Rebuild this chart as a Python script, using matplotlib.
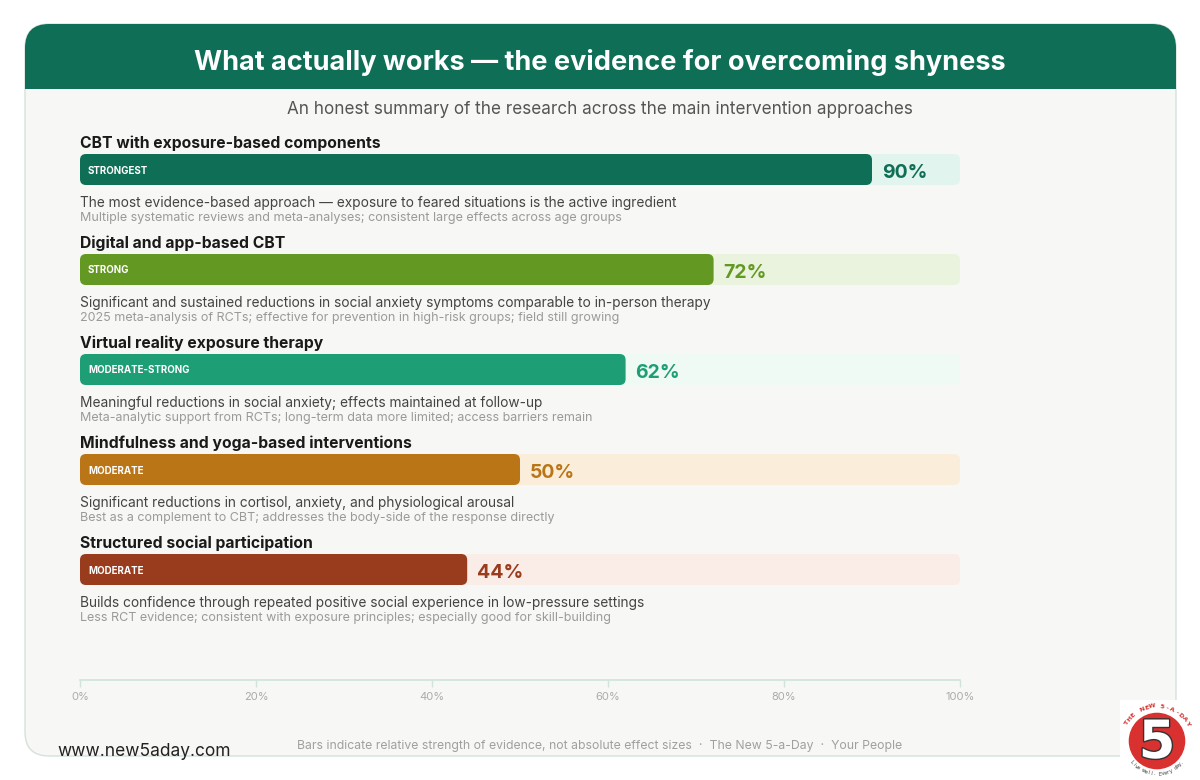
import numpy as np
import matplotlib
matplotlib.use("Agg")
import matplotlib.pyplot as plt
import matplotlib.patheffects as pe
from matplotlib.patches import FancyBboxPatch, Rectangle, Circle

plt.rcParams['font.family'] = ['Inter', 'DejaVu Sans']

# data
names = ["CBT with exposure-based components",
         "Digital and app-based CBT",
         "Virtual reality exposure therapy",
         "Mindfulness and yoga-based interventions",
         "Structured social participation"]
strength = [90, 72, 62, 50, 44]
badges = ["STRONGEST", "STRONG", "MODERATE-STRONG", "MODERATE", "MODERATE"]
desc_main = [
    "The most evidence-based approach \u2014 exposure to feared situations is the active ingredient",
    "Significant and sustained reductions in social anxiety symptoms comparable to in-person therapy",
    "Meaningful reductions in social anxiety; effects maintained at follow-up",
    "Significant reductions in cortisol, anxiety, and physiological arousal",
    "Builds confidence through repeated positive social experience in low-pressure settings",
]
desc_note = [
    "Multiple systematic reviews and meta-analyses; consistent large effects across age groups",
    "2025 meta-analysis of RCTs; effective for prevention in high-risk groups; field still growing",
    "Meta-analytic support from RCTs; long-term data more limited; access barriers remain",
    "Best as a complement to CBT; addresses the body-side of the response directly",
    "Less RCT evidence; consistent with exposure principles; especially good for skill-building",
]
bar_colors = ["#0F6E56", "#639922", "#1D9E75", "#BA7517", "#993C1D"]
track_colors = ["#E1F5EE", "#EAF3DE", "#EFFAF5", "#FAEEDA", "#FAECE7"]
xticks = [0, 20, 40, 60, 80, 100]

title = "What actually works \u2014 the evidence for overcoming shyness"
subtitle = "An honest summary of the research across the main intervention approaches"
footer = "Bars indicate relative strength of evidence, not absolute effect sizes  \u00b7  The New 5-a-Day  \u00b7  Your People"

W, H = 1200, 780
fig = plt.figure(figsize=(W / 100, H / 100), dpi=100)
fig.patch.set_facecolor("white")

# background card in pixel coords
bg = fig.add_axes([0, 0, 1, 1])
bg.set_xlim(0, W)
bg.set_ylim(H, 0)
bg.axis("off")

card = FancyBboxPatch((25, 24), 1151, 732, boxstyle="round,pad=0,rounding_size=24",
                      facecolor="#F7F7F5", edgecolor="#D3E2DC", linewidth=1.0)
bg.add_patch(card)
head = FancyBboxPatch((25, 24), 1151, 65, boxstyle="round,pad=0,rounding_size=24",
                      facecolor="#0F6E56", edgecolor="none")
bg.add_patch(head)
bg.add_patch(Rectangle((25, 55), 1151, 34, facecolor="#0F6E56", edgecolor="none"))

bg.text(600, 63, title, ha="center", va="center", color="white",
        fontsize=19.5, fontweight="bold")
bg.text(600, 109, subtitle, ha="center", va="center", color="#555555", fontsize=12.3)
bg.text(600, 746, footer, ha="center", va="center", color="#A0A0A0", fontsize=8.8)
bg.text(57, 752, "www.new5aday.com", ha="left", va="center", color="#222222", fontsize=12.5)

# logo
bg.add_patch(Rectangle((1120, 700), 72, 78, facecolor="white", edgecolor="none"))
cx, cy, r = 1157, 741, 29
bg.add_patch(Circle((cx, cy), r, facecolor="#D8312F", edgecolor="white", linewidth=1))
bg.text(cx, cy + 2, "5", ha="center", va="center", color="white", fontsize=38,
        fontweight="bold", family="DejaVu Sans",
        path_effects=[pe.withStroke(linewidth=2, foreground="#333333")])
arc_txt = "THE NEW 5-A-DAY"
angs = np.linspace(150, 30, len(arc_txt))
for ch, a in zip(arc_txt, angs):
    ra = np.radians(a)
    bg.text(cx + (r + 6) * np.cos(ra), cy - (r + 6) * np.sin(ra), ch, ha="center", va="center",
            rotation=a - 90, color="#D8312F", fontsize=4.5, fontweight="bold", family="DejaVu Sans")
low_txt = "Live well. Every day."
angs = np.linspace(220, 320, len(low_txt))
for ch, a in zip(low_txt, angs):
    ra = np.radians(a)
    bg.text(cx + (r + 4) * np.cos(ra), cy - (r + 4) * np.sin(ra), ch, ha="center", va="center",
            rotation=a + 90, color="#333333", fontsize=3.5, family="DejaVu Sans")

# bar axes: x 80..960 px, y 130..680 px (1 y unit = 100 px)
ax = fig.add_axes([80 / W, 1 - 680 / H, 880 / W, 550 / H])
ax.set_xlim(0, 100)
ax.set_ylim(6.8, 1.3)
ax.patch.set_alpha(0)
for s in ["top", "left", "right"]:
    ax.spines[s].set_visible(False)
ax.spines["bottom"].set_color("#CFE3DC")
ax.spines["bottom"].set_linewidth(1.2)
ax.set_yticks([])
ax.set_xticks(xticks)
ax.set_xticklabels([f"{t}%" for t in xticks])
ax.tick_params(axis="x", colors="#CFE3DC", labelcolor="#ABABAB", labelsize=8,
               length=5, width=1, pad=4)

bar_h = 0.31
rs = 6 * 100 / 880          # 6 px corner radius in x units
asp = (1 / 100) / (100 / 880)  # y units per px over x units per px
for i in range(len(names)):
    top = 1.54 + i
    ax.add_patch(FancyBboxPatch((0, top), 100, bar_h,
                                boxstyle=f"round,pad=0,rounding_size={rs}",
                                mutation_aspect=asp,
                                facecolor=track_colors[i], edgecolor="none", zorder=1))
    ax.add_patch(FancyBboxPatch((0, top), strength[i], bar_h,
                                boxstyle=f"round,pad=0,rounding_size={rs}",
                                mutation_aspect=asp,
                                facecolor=bar_colors[i], edgecolor="none", zorder=2))
    ax.text(0.9, top + bar_h / 2 + 0.01, badges[i], ha="left", va="center", color="white",
            fontsize=7, fontweight="bold", zorder=3)
    ax.text(strength[i] + 1.1, top + bar_h / 2 + 0.035, f"{strength[i]}%", ha="left", va="center",
            color=bar_colors[i], fontsize=14, fontweight="bold", zorder=3)
    ax.text(0, top - 0.105, names[i], ha="left", va="center", color="#1A1A1A",
            fontsize=11.3, fontweight="bold")
    ax.text(0, top + 0.485, desc_main[i], ha="left", va="center", color="#444444", fontsize=9.9)
    ax.text(0, top + 0.635, desc_note[i], ha="left", va="center", color="#9A9A9A", fontsize=9.0)

fig.savefig("out.png", dpi=100, facecolor="white")
